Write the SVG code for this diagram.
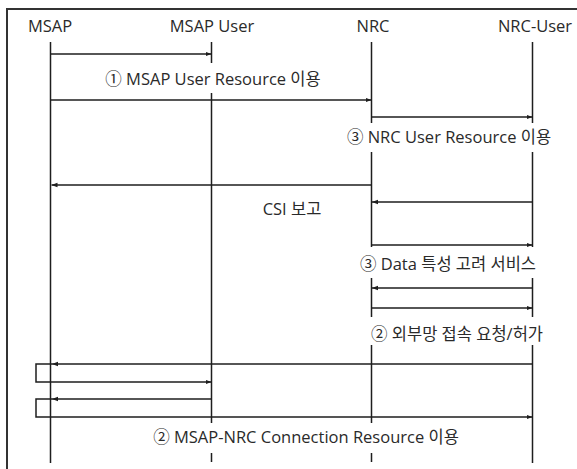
<svg xmlns="http://www.w3.org/2000/svg" width="577" height="469" viewBox="0 0 577 469">
<style>
  text { font-family: "Open Sans", "Noto Sans CJK KR", sans-serif; font-size: 16.5px; fill: #2a2a2a; text-anchor: middle; }
  .life { stroke: #1e1e1e; stroke-width: 1.5; fill: none; }
  .msg { stroke: #1e1e1e; stroke-width: 1.5; fill: none; marker-end: url(#ah); }
  .frame { stroke: #333; stroke-width: 2; fill: none; }
</style>
<defs>
  <marker id="ah" viewBox="0 0 6 6" refX="6" refY="3" markerWidth="6" markerHeight="6" markerUnits="userSpaceOnUse" orient="auto">
    <path d="M0,0.8 L6,3 L0,5.2 z" fill="#1e1e1e"/>
  </marker>
</defs>
<rect width="577" height="469" fill="#fff"/>
<path class="frame" d="M7,469 V9 H577"/>

<g id="msap">
  <text x="50" y="32">MSAP</text>
  <path class="life" d="M50.5,42 V463"/>
</g>
<g id="msap-user">
  <text x="212" y="32">MSAP User</text>
  <path class="life" d="M211.5,42 V63 M211.5,93 V423 M211.5,453 V462"/>
</g>
<g id="nrc">
  <text x="373" y="32">NRC</text>
  <path class="life" d="M371.5,42 V123 M371.5,152 V247 M371.5,278 V317 M371.5,345 V423 M371.5,453 V462"/>
</g>
<g id="nrc-user">
  <text x="535" y="32">NRC-User</text>
  <path class="life" d="M532.5,42 V123 M532.5,152 V247 M532.5,278 V317 M532.5,345 V463"/>
</g>

<g id="connectors">
  <path class="msg" d="M50.5,54 H211.5"/>
  <path class="msg" d="M50.5,100 H371.5"/>
  <path class="msg" d="M371.5,117 H532.5"/>
  <path class="msg" d="M371.5,185 H51.5"/>
  <path class="msg" d="M532.5,202 H372"/>
  <path class="msg" d="M371.5,245 H532.5"/>
  <path class="msg" d="M532.5,288 H372"/>
  <path class="msg" d="M371.5,308 H532.5"/>
  <path class="msg" d="M532.5,364 H52"/>
  <path class="msg" d="M52,364 H36 V382 H211.5"/>
  <path class="msg" d="M211.5,399 H52"/>
  <path class="msg" d="M52,399 H36 V417 H532.5"/>
</g>

<g id="labels">
  <text x="213" y="85">① MSAP User Resource 이용</text>
  <text x="449" y="143">③ NRC User Resource 이용</text>
  <text x="292" y="215">CSI 보고</text>
  <text x="448" y="270">③ Data 특성 고려 서비스</text>
  <text x="457" y="340">② 외부망 접속 요청/허가</text>
  <text x="306" y="443">② MSAP-NRC Connection Resource 이용</text>
</g>
</svg>
